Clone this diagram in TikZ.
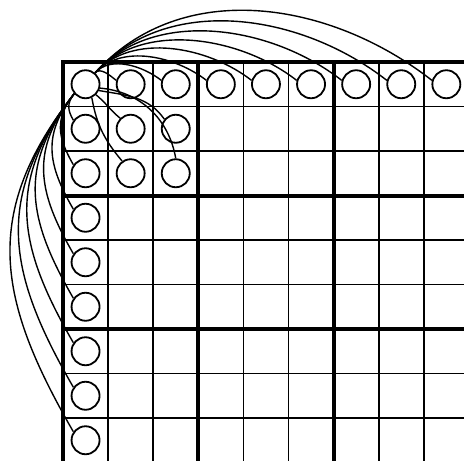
\documentclass[tikz,border=0pt]{standalone}
\begin{document}
\begin{tikzpicture}[x=1pt, y=-1pt,
  thinline/.style={line width=1.6pt},
  thickline/.style={line width=4pt},
  cand/.style={circle, draw, line width=1.8pt, minimum size=28pt, inner sep=0pt},
  link/.style={line width=1.4pt}]

\useasboundingbox (0,0) rectangle (464,461);
\clip (0,0) rectangle (464,461);

% Thin grid lines, columns
\draw[thinline] (108.1,62) -- (108.1,470);
\draw[thinline] (153.2,62) -- (153.2,470);
\draw[thinline] (243.4,62) -- (243.4,470);
\draw[thinline] (288.5,62) -- (288.5,470);
\draw[thinline] (378.7,62) -- (378.7,470);
\draw[thinline] (423.8,62) -- (423.8,470);

% Thin grid lines, rows
\draw[thinline] (63,106.5) -- (470,106.5);
\draw[thinline] (63,151) -- (470,151);
\draw[thinline] (63,240) -- (470,240);
\draw[thinline] (63,284.5) -- (470,284.5);
\draw[thinline] (63,373.5) -- (470,373.5);
\draw[thinline] (63,418) -- (470,418);

% Box borders
\draw[thickline] (198.3,62) -- (198.3,470);
\draw[thickline] (333.6,62) -- (333.6,470);
\draw[thickline] (63,195.5) -- (470,195.5);
\draw[thickline] (63,329) -- (470,329);

% Outer border
\draw[thickline] (470,62) -- (63,62) -- (63,470);

% First row
\node[cand] (c11) at (85.55,84.25) {};
\node[cand] (c12) at (130.65,84.25) {};
\node[cand] (c13) at (175.75,84.25) {};
\node[cand] (c14) at (220.85,84.25) {};
\node[cand] (c15) at (265.95,84.25) {};
\node[cand] (c16) at (311.05,84.25) {};
\node[cand] (c17) at (356.15,84.25) {};
\node[cand] (c18) at (401.25,84.25) {};
\node[cand] (c19) at (446.35,84.25) {};

% First column
\node[cand] (c21) at (85.55,128.75) {};
\node[cand] (c31) at (85.55,173.25) {};
\node[cand] (c41) at (85.55,217.75) {};
\node[cand] (c51) at (85.55,262.25) {};
\node[cand] (c61) at (85.55,306.75) {};
\node[cand] (c71) at (85.55,351.25) {};
\node[cand] (c81) at (85.55,395.75) {};
\node[cand] (c91) at (85.55,440.25) {};

% Rest of the first box
\node[cand] (c22) at (130.65,128.75) {};
\node[cand] (c23) at (175.75,128.75) {};
\node[cand] (c32) at (130.65,173.25) {};
\node[cand] (c33) at (175.75,173.25) {};

% Links along the first row
\draw[link] (c11.50) to[out=48,in=142,looseness=0.9] (c12.165);
\draw[link] (c11.50) to[out=48,in=142,looseness=0.9] (c13.165);
\draw[link] (c11.50) to[out=48,in=142,looseness=0.9] (c14.165);
\draw[link] (c11.50) to[out=48,in=142,looseness=0.9] (c15.165);
\draw[link] (c11.50) to[out=48,in=142,looseness=0.9] (c16.165);
\draw[link] (c11.50) to[out=48,in=142,looseness=0.92] (c17.165);
\draw[link] (c11.50) to[out=48,in=142,looseness=0.95] (c18.165);
\draw[link] (c11.50) to[out=48,in=142,looseness=0.98] (c19.165);

% Links down the first column
\draw[link] (c11.220) to[out=232,in=120,looseness=1.15] (c21.145);
\draw[link] (c11.220) to[out=232,in=120,looseness=1.15] (c31.145);
\draw[link] (c11.220) to[out=232,in=120,looseness=1.15] (c41.145);
\draw[link] (c11.220) to[out=232,in=120,looseness=1.15] (c51.145);
\draw[link] (c11.220) to[out=232,in=120,looseness=1.15] (c61.145);
\draw[link] (c11.220) to[out=232,in=120,looseness=1.15] (c71.145);
\draw[link] (c11.220) to[out=232,in=120,looseness=1.15] (c81.145);
\draw[link] (c11.220) to[out=232,in=120,looseness=1.15] (c91.145);

% Links inside the first box
\draw[link] (c11.-45) to[out=-40,in=140] (c22.135);
\draw[link] (c11.-25) to[out=-10,in=125] (c23.140);
\draw[link] (c11.-65) to[out=-80,in=130] (c32.125);
\draw[link] (c11.-15) to[out=-5,in=100] (c33.north);

\end{tikzpicture}
\end{document}
